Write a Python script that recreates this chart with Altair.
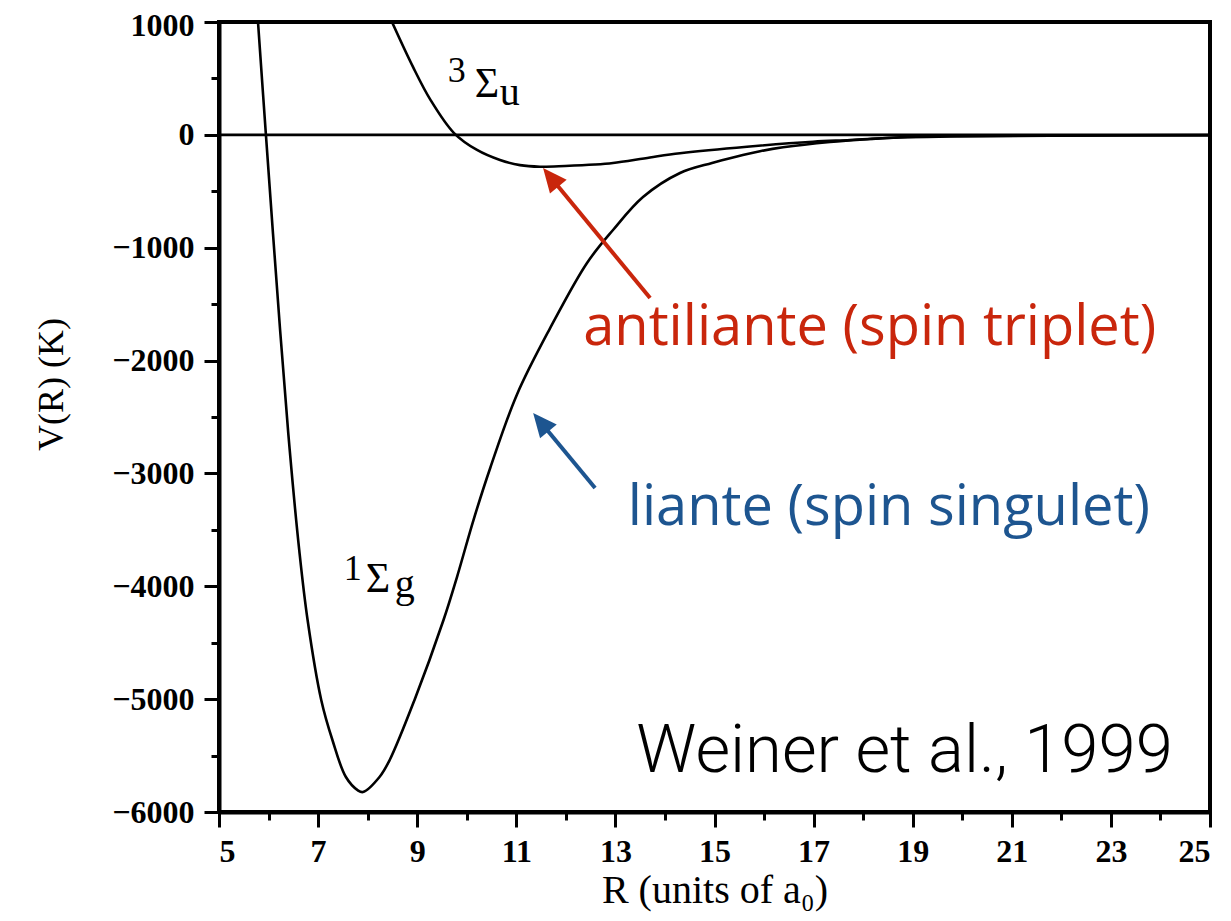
import altair as alt
import pandas as pd

# ---- data ----
singlet_R = [5.787, 5.947, 6.233, 6.427, 6.619, 6.788, 7.063, 7.289, 7.561, 7.803, 7.906,
             8.239, 8.445, 8.946, 9.531, 9.803, 10.136, 10.479, 11.014, 11.680, 12.427, 12.952,
             13.557, 14.304, 14.950, 15.414, 15.918, 16.383, 17.332, 18.139, 18.886, 19.955,
             21.770, 25.000]
singlet_V = [1000, 0, -1729, -2792, -3678, -4299, -5007, -5362, -5690, -5808, -5823,
             -5690, -5539, -5007, -4299, -3918, -3413, -2945, -2300, -1715, -1135, -843,
             -551, -338, -249, -196, -145, -110, -63, -37, -19, -10,
             -6, -2]
triplet_R = [8.491, 8.915, 9.268, 9.743, 10.207, 10.671, 11.075, 11.478, 11.983, 12.588,
             12.952, 13.698, 14.304, 15.656, 16.988, 17.735, 18.744, 19.753, 21.771, 25.000]
triplet_V = [1000, 602, 310, 16, -134, -223, -268, -282, -276, -263,
             -249, -200, -163, -105, -61, -46, -23, -15, -8, -3]

x_ticks = list(range(5, 26))
y_ticks = list(range(-6000, 1001, 500))

# annotation texts (data-space anchors)
state_text = ["3", "Σ", "u", "1", "Σ", "g"]
state_R = [9.80, 10.41, 10.87, 7.70, 8.21, 8.75]
state_V = [468, 335, 265, -3944, -4051, -4095]
state_size = [36, 42, 40, 36, 42, 40]

arrow_names = ["triplet", "singlet"]
arrow_tail_R = [13.70, 12.59]
arrow_tail_V = [-1446, -3129]
arrow_end_R = [11.73, 11.53]
arrow_end_V = [-396, -2567]
arrow_tip_R = [11.54, 11.34]
arrow_tip_V = [-294, -2464]
arrow_colors = ["#c9260c", "#1d5590"]

RED = arrow_colors[0]
BLUE = arrow_colors[1]

curves = pd.DataFrame({
    "R": singlet_R + triplet_R,
    "V": singlet_V + triplet_V,
    "state": ["singlet"] * len(singlet_R) + ["triplet"] * len(triplet_R),
})

xscale = alt.Scale(domain=[5, 25], nice=False, zero=False)
yscale = alt.Scale(domain=[-6000, 1000], nice=False, zero=False)

xaxis = alt.Axis(
    values=x_ticks, format="d", title="R (units of a₀)",
    labelExpr="datum.value % 2 === 1 ? datum.label : ''",
    tickSize={"condition": {"test": "datum.value % 2 === 1", "value": 15}, "value": 8},
    labelPadding=9, titleY=90, titleBaseline="alphabetic", titleFontSize=40,
)
yaxis = alt.Axis(
    values=y_ticks, format="d", title="V(R) (K)",
    labelExpr="datum.value % 1000 === 0 ? datum.label : ''",
    tickSize={"condition": {"test": "datum.value % 1000 === 0", "value": 15}, "value": 8},
    labelOffset={"condition": {"test": "datum.value === 1000", "value": 3}, "value": 0},
    labelPadding=10, titleX=-157, titleY=362, titleBaseline="alphabetic", titleFontSize=36,
)

X = alt.X("R:Q", scale=xscale, axis=xaxis)
Y = alt.Y("V:Q", scale=yscale, axis=yaxis)

lines = alt.Chart(curves).mark_line(color="black", strokeWidth=2.6, interpolate="catmull-rom", clip=True).encode(
    x=X, y=Y, detail="state:N"
)

zero = alt.Chart(pd.DataFrame({"V": [0]})).mark_rule(color="black", strokeWidth=2.6).encode(
    y=alt.Y("V:Q", scale=yscale)
)

arrows = pd.DataFrame({
    "name": arrow_names, "R": arrow_tail_R, "V": arrow_tail_V,
    "R2": arrow_end_R, "V2": arrow_end_V, "tR": arrow_tip_R, "tV": arrow_tip_V,
    "color": arrow_colors,
})
shafts = alt.Chart(arrows).mark_rule(strokeWidth=4).encode(
    x=alt.X("R:Q", scale=xscale), y=alt.Y("V:Q", scale=yscale),
    x2="R2:Q", y2="V2:Q", color=alt.Color("color:N", scale=None),
)
heads = alt.Chart(arrows).mark_point(
    shape="M0,0 L-0.45,1 L0.45,1 Z", filled=True, size=2304, angle=320.5, opacity=1, strokeWidth=0
).encode(
    x=alt.X("tR:Q", scale=xscale), y=alt.Y("tV:Q", scale=yscale),
    color=alt.Color("color:N", scale=None),
)

states = pd.DataFrame({"t": state_text, "R": state_R, "V": state_V, "s": state_size})
state_labels = alt.Chart(states).mark_text(
    font="Liberation Serif", color="black", align="center", baseline="alphabetic"
).encode(
    x=alt.X("R:Q", scale=xscale), y=alt.Y("V:Q", scale=yscale),
    text="t:N", size=alt.Size("s:Q", scale=None),
)

notes = pd.DataFrame({
    "t": ["antiliante (spin triplet)", "liante (spin singulet)"],
    "R": [12.35, 13.25], "V": [-1862, -3457], "color": [RED, BLUE],
})
note_text = alt.Chart(notes).mark_text(
    font="Open Sans", fontSize=56, align="left", baseline="alphabetic"
).encode(
    x=alt.X("R:Q", scale=xscale), y=alt.Y("V:Q", scale=yscale),
    text="t:N", color=alt.Color("color:N", scale=None),
)

credit = alt.Chart(pd.DataFrame({"t": ["Weiner et al., 1999"], "R": [24.25], "V": [-5645]})).mark_text(
    font="Roboto", fontWeight=300, fontSize=67, align="right", baseline="alphabetic", color="black"
).encode(
    x=alt.X("R:Q", scale=xscale), y=alt.Y("V:Q", scale=yscale), text="t:N"
)

chart = alt.layer(zero, lines, shafts, heads, state_labels, note_text, credit).properties(
    width=991, height=790,
    autosize=alt.AutoSizeParams(type="none"),
    padding={"left": 211, "top": 14, "right": 13, "bottom": 100},
).configure_view(
    stroke="black", strokeWidth=4
).configure_axis(
    grid=False, domainColor="black", domainWidth=4, tickColor="black", tickWidth=3,
    labelFont="Liberation Serif", labelFontSize=32, labelFontWeight="bold", labelColor="black",
    titleFont="Liberation Serif", titleFontWeight="normal", titleColor="black",
)

chart.save("out.html", embed_options={"renderer": "svg", "actions": False})
